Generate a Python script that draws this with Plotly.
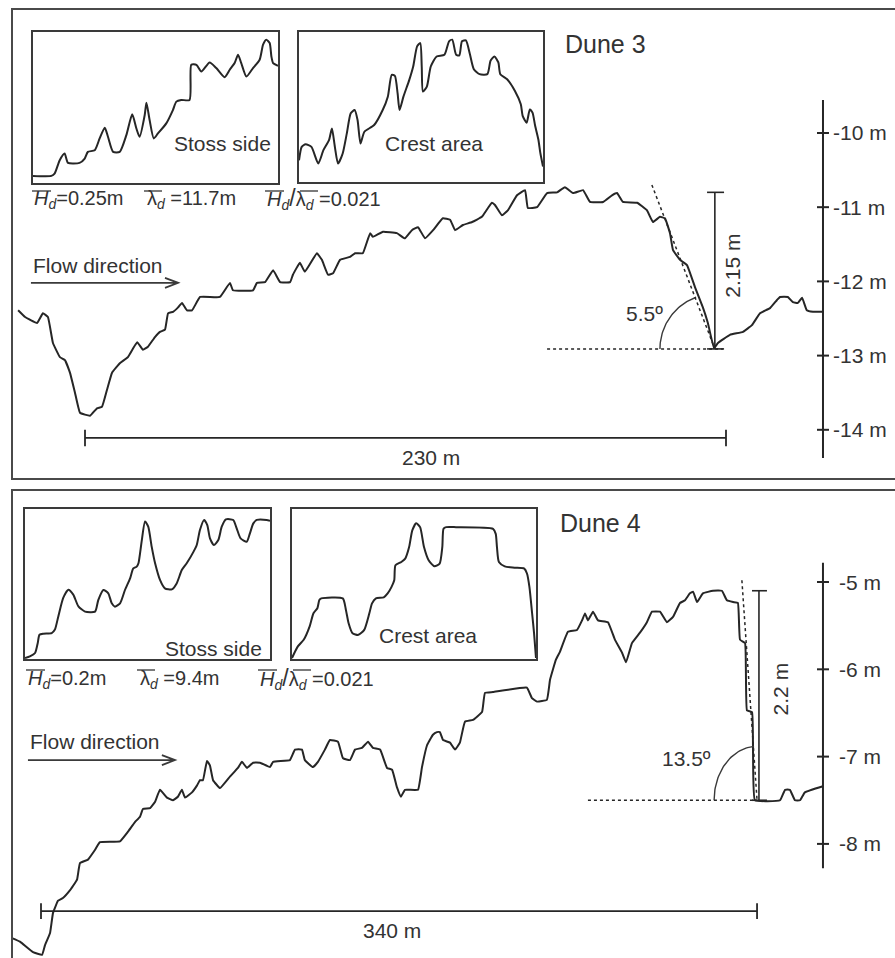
import numpy as np
import plotly.graph_objects as go

W, H = 895, 958
FONT = "Liberation Sans, Arial, sans-serif"
INK = "#262626"
TXT = "#333333"

# ---------------- data: Dune 3 profile (distance m, depth m) ----------------
d3_dist = [-24.0, -21.5, -17.2, -15.1, -13.3, -11.5, -9.0, -7.2, -5.4, -3.6,
           -1.8, 1.8, 4.3, 6.1, 7.9, 9.7, 12.6, 15.4, 18.7, 20.8,
           22.6, 25.1, 26.9, 28.7, 29.8, 31.6, 33.4, 34.8, 36.6, 38.4,
           41.3, 48.4, 52.0, 53.1, 60.3, 61.7, 64.6, 67.5, 70.0, 73.6,
           74.6, 77.1, 78.9, 83.2, 85.0, 87.2, 89.0, 91.5, 95.1, 96.9,
           99.7, 102.3, 103.3, 106.9, 111.9, 114.8, 117.3, 119.5, 122.0, 124.9,
           128.4, 131.0, 132.8, 135.6, 138.9, 142.4, 146.0, 147.1, 149.6, 151.8,
           155.0, 157.9, 158.9, 162.2, 165.8, 169.4, 172.2, 175.1, 178.7, 181.2,
           185.9, 189.1, 190.9, 193.0, 198.1, 201.6, 203.8, 206.3, 208.1, 209.9,
           211.0, 213.5, 216.0, 218.9, 221.7, 223.5, 225.7, 227.1, 231.4, 236.1,
           239.3, 242.2, 245.8, 248.3, 249.4, 252.2, 254.0, 255.8, 257.3, 259.0,
           261.2, 264.8]
d3_depth = [-12.39, -12.48, -12.56, -12.43, -12.48, -12.83, -13.02, -13.06, -13.23, -13.50,
            -13.77, -13.81, -13.71, -13.69, -13.46, -13.23, -13.10, -13.02, -12.82, -12.92,
            -12.88, -12.75, -12.68, -12.65, -12.43, -12.41, -12.35, -12.29, -12.39, -12.39,
            -12.21, -12.21, -12.02, -12.12, -12.12, -12.02, -12.01, -11.85, -12.01, -12.01,
            -11.91, -11.75, -11.87, -11.62, -11.71, -11.91, -11.89, -11.71, -11.67, -11.62,
            -11.62, -11.35, -11.40, -11.33, -11.35, -11.42, -11.31, -11.27, -11.42, -11.31,
            -11.15, -11.17, -11.31, -11.24, -11.20, -11.13, -10.94, -10.97, -11.11, -11.04,
            -10.84, -10.77, -11.01, -11.00, -10.81, -10.80, -10.73, -10.81, -10.77, -10.93,
            -10.93, -10.84, -10.81, -10.93, -10.94, -11.04, -11.20, -11.13, -11.15, -11.35,
            -11.58, -11.71, -11.78, -12.08, -12.35, -12.56, -12.90, -12.83, -12.72, -12.68,
            -12.59, -12.43, -12.36, -12.25, -12.21, -12.21, -12.28, -12.29, -12.22, -12.39,
            -12.41, -12.41]

# ---------------- data: Dune 4 profile ----------------
d4_dist = [-13.8, -10.0, -3.8, 0.5, 1.9, 4.3, 5.7, 8.1, 10.4, 13.8,
           17.1, 18.5, 22.3, 25.6, 28.0, 37.5, 41.3, 44.6, 47.0, 48.4,
           51.8, 54.1, 56.5, 59.8, 62.7, 65.0, 66.9, 68.4, 71.7, 74.1,
           75.5, 76.9, 78.8, 80.2, 81.7, 85.0, 89.7, 93.5, 95.4, 97.8,
           100.7, 104.0, 108.7, 110.2, 118.2, 120.6, 123.9, 125.3, 129.1, 131.5,
           134.8, 137.2, 141.0, 143.4, 146.7, 149.1, 152.4, 155.3, 157.6, 161.0,
           164.3, 166.7, 169.0, 170.9, 172.8, 179.0, 180.9, 183.3, 186.1, 188.0,
           189.4, 190.9, 194.2, 196.6, 198.9, 201.3, 205.1, 209.4, 210.8, 214.6,
           230.7, 233.1, 235.5, 240.2, 241.7, 244.5, 246.4, 250.2, 254.5, 256.9,
           258.3, 259.7, 262.1, 264.5, 269.2, 272.5, 275.9, 277.8, 280.6, 284.4,
           287.7, 290.1, 293.9, 297.2, 300.1, 303.4, 305.8, 308.1, 309.6, 311.5,
           314.3, 319.1, 323.3, 325.7, 328.6, 330.9, 331.9, 334.3, 335.2, 337.6,
           338.1, 339.0, 350.9, 353.3, 355.6, 358.0, 360.4, 362.7, 371.3]
d4_depth = [-9.08, -9.12, -9.24, -9.27, -9.16, -9.02, -8.79, -8.65, -8.62, -8.53,
            -8.41, -8.22, -8.18, -8.07, -7.98, -7.97, -7.86, -7.75, -7.69, -7.60,
            -7.59, -7.52, -7.38, -7.47, -7.50, -7.46, -7.38, -7.47, -7.41, -7.33,
            -7.27, -7.27, -7.05, -7.10, -7.27, -7.36, -7.23, -7.13, -7.06, -7.13,
            -7.07, -7.07, -7.12, -7.06, -7.04, -6.92, -6.92, -7.04, -7.12, -7.06,
            -6.92, -6.81, -6.83, -7.02, -7.04, -6.92, -6.90, -6.83, -6.90, -6.92,
            -7.13, -7.15, -7.35, -7.46, -7.38, -7.38, -7.12, -6.87, -6.75, -6.72,
            -6.72, -6.81, -6.84, -6.92, -6.84, -6.60, -6.58, -6.49, -6.27, -6.26,
            -6.21, -6.33, -6.37, -6.35, -6.12, -5.89, -5.80, -5.57, -5.55, -5.44,
            -5.36, -5.44, -5.34, -5.44, -5.46, -5.66, -5.81, -5.92, -5.70, -5.58,
            -5.46, -5.34, -5.34, -5.46, -5.40, -5.24, -5.21, -5.13, -5.11, -5.23,
            -5.13, -5.10, -5.10, -5.21, -5.23, -5.24, -5.66, -5.70, -6.47, -6.49,
            -6.96, -7.50, -7.50, -7.38, -7.38, -7.50, -7.50, -7.41, -7.34]

# ---------------- data: inset profiles (relative %, box = 0..100) ----------------
d3_stoss_x = [0, 7.5, 8.8, 10.9, 12.9, 14.3, 19.0, 21.1, 22.4, 25.2, 27.2, 29.3, 30.6, 32.7, 35.4,
              38.1, 40.5, 42.2, 43.5, 45.6, 46.3, 47.6, 49.3, 51.0, 54.4, 57.1, 58.5, 60.5, 63.9,
              64.6, 66.7, 68.7, 72.1, 74.8, 78.2, 80.3, 82.3, 83.7, 85.0, 87.1, 89.8, 92.5, 93.9,
              95.2, 96.6, 97.3, 98.0, 100]
d3_stoss_y = [4.7, 4.7, 6.2, 15.1, 19.5, 13.3, 13.3, 16.2, 20.6, 21.7, 29.5, 36.6, 30.6, 20.6, 20.6,
              31.7, 45.5, 36.1, 30.6, 45.0, 53.2, 41.7, 29.5, 32.8, 39.5, 48.3, 53.9, 55.0, 55.0,
              78.3, 78.3, 73.8, 79.8, 76.1, 70.1, 75.0, 79.4, 85.0, 79.4, 70.5, 76.1, 81.6, 91.6,
              94.9, 92.7, 83.8, 79.4, 77.6]
d3_crest_x = [0, 1.1, 2.7, 5.1, 7.9, 10.0, 12.3, 13.5, 14.7, 16.0, 17.9, 19.6, 21.2, 22.8, 24.0,
              25.2, 26.8, 30.8, 34.3, 36.4, 38.0, 39.3, 40.4, 41.2, 42.8, 45.2, 46.8, 48.4, 49.7,
              50.3, 50.8, 52.4, 54.0, 56.4, 59.6, 61.5, 62.8, 64.4, 65.7, 66.8, 68.4, 70.0, 71.6,
              74.0, 77.2, 78.5, 80.1, 81.7, 82.5, 85.3, 88.5, 90.9, 91.7, 93.3, 94.6, 95.7, 96.8,
              98.1, 98.9, 100]
d3_crest_y = [14.5, 23.4, 25.2, 23.4, 12.3, 21.2, 27.9, 35.7, 23.4, 12.3, 19.0, 32.4, 45.8, 48.0, 41.3,
              25.7, 33.5, 38.0, 48.0, 56.9, 71.4, 70.8, 59.2, 48.0, 56.9, 68.1, 77.0, 90.4, 92.6,
              77.0, 60.3, 63.6, 77.0, 83.7, 84.8, 93.8, 94.9, 84.8, 84.4, 93.8, 94.4, 85.5, 75.4,
              71.9, 71.9, 80.8, 83.7, 79.7, 71.9, 68.5, 60.7, 51.8, 43.9, 39.5, 48.4, 46.2, 37.3,
              28.3, 19.4, 10.3]
d4_stoss_x = [0, 2.0, 4.1, 5.2, 5.9, 7.5, 10.9, 12.2, 13.6, 15.6, 17.7, 19.7, 21.8, 24.5, 28.6,
              29.9, 32.0, 34.0, 35.4, 36.7, 38.8, 40.8, 42.9, 44.2, 45.6, 46.3, 47.6, 49.0, 50.3,
              51.7, 53.1, 55.1, 57.1, 59.9, 61.9, 64.0, 66.0, 68.8, 70.1, 71.4, 73.1, 74.4, 75.5,
              77.1, 78.9, 80.3, 82.0, 85.0, 86.4, 88.0, 90.5, 91.8, 93.2, 94.6, 98.6, 100]
d4_stoss_y = [0.7, 1.8, 4.0, 10.7, 16.2, 16.9, 17.3, 19.6, 28.4, 40.7, 46.2, 42.9, 35.1, 31.6, 31.6,
              39.3, 46.0, 43.8, 37.1, 34.9, 37.1, 46.0, 53.8, 60.4, 61.6, 63.8, 78.2, 91.6, 88.2,
              74.9, 63.8, 52.7, 47.1, 46.4, 50.4, 59.3, 63.8, 71.6, 76.0, 86.0, 92.7, 89.3, 80.4,
              76.0, 79.3, 88.2, 93.1, 92.7, 87.1, 80.4, 78.2, 83.8, 90.4, 92.7, 92.7, 92.2]
d4_crest_x = [0, 2.4, 4.8, 7.2, 8.8, 10.4, 11.2, 12.0, 20.8, 22.1, 23.2, 24.8, 27.2, 29.6, 31.7,
              32.8, 34.4, 37.6, 39.2, 40.8, 41.9, 42.4, 44.8, 46.4, 48.0, 49.3, 50.9, 52.5, 54.1,
              56.0, 58.4, 60.5, 61.6, 62.1, 63.2, 67.2, 82.4, 83.5, 84.0, 84.8, 87.2, 91.2, 95.2,
              96.3, 97.3, 98.4, 99.2, 100]
d4_crest_y = [0.7, 8.4, 12.8, 21.6, 30.5, 33.8, 39.3, 40.4, 40.4, 32.7, 23.8, 17.2, 16.1, 19.4, 30.5,
              37.1, 40.4, 41.1, 43.7, 48.1, 52.5, 62.5, 64.7, 66.9, 74.6, 85.7, 90.5, 87.9, 74.6,
              65.8, 61.8, 63.6, 74.6, 86.8, 87.9, 87.9, 86.8, 83.4, 74.6, 64.7, 61.8, 60.9, 60.3,
              57.0, 48.1, 30.5, 17.2, 0.7]

# ---------------- data: scales, annotations ----------------
d3_ticks = [-10, -11, -12, -13, -14]
d3_tick_labels = ["-10 m", "-11 m", "-12 m", "-13 m", "-14 m"]
d4_ticks = [-5, -6, -7, -8]
d4_tick_labels = ["-5 m", "-6 m", "-7 m", "-8 m"]
d3_length, d4_length = 230, 340
d3_lee_height, d4_lee_height = "2.15 m", "2.2 m"
d3_lee_angle, d4_lee_angle = "5.5º", "13.5º"
d3_stats = ["0.25m", "11.7m", "0.021"]
d4_stats = ["0.2m", "9.4m", "0.021"]

# ---------------- figure ----------------
def P(px, py):
    return px / W, 1 - py / H

fig = go.Figure()

hidden = dict(visible=False, showgrid=False, zeroline=False, fixedrange=True)
box = dict(showline=True, mirror=True, linecolor="#3a3a3a", linewidth=2,
           showgrid=False, zeroline=False, showticklabels=False, ticks="",
           range=[0, 100], fixedrange=True)

fig.update_layout(
    width=W, height=H, margin=dict(l=0, r=0, t=0, b=0),
    paper_bgcolor="white", plot_bgcolor="rgba(0,0,0,0)", showlegend=False,
    font=dict(family=FONT, size=21, color=TXT),
    xaxis=dict(domain=[0, 1], range=[-30.50, 290.64], anchor="y", **hidden),
    yaxis=dict(domain=[0.5, 1], range=[-14.663, -8.208], anchor="x", **hidden),
    xaxis2=dict(domain=[0, 1], range=[-19.47, 405.50], anchor="y2", **hidden),
    yaxis2=dict(domain=[0, 0.5], range=[-9.307, -3.820], anchor="x2", **hidden),
    xaxis3=dict(domain=[33 / W, 278 / W], anchor="y3", **box),
    yaxis3=dict(domain=[1 - 183 / H, 1 - 32 / H], anchor="x3", **box),
    xaxis4=dict(domain=[299 / W, 543 / W], anchor="y4", **box),
    yaxis4=dict(domain=[1 - 182 / H, 1 - 32 / H], anchor="x4", **box),
    xaxis5=dict(domain=[25 / W, 270 / W], anchor="y5", **box),
    yaxis5=dict(domain=[1 - 659 / H, 1 - 509 / H], anchor="x5", **box),
    xaxis6=dict(domain=[292 / W, 536 / W], anchor="y6", **box),
    yaxis6=dict(domain=[1 - 659 / H, 1 - 509 / H], anchor="x6", **box),
)

prof_line = dict(color=INK, width=2, shape="spline", smoothing=0.3)
fig.add_trace(go.Scatter(x=d3_dist, y=d3_depth, mode="lines", line=prof_line, xaxis="x", yaxis="y", hoverinfo="skip"))
fig.add_trace(go.Scatter(x=d4_dist, y=d4_depth, mode="lines", line=prof_line, xaxis="x2", yaxis="y2", hoverinfo="skip"))
ins_line = dict(color=INK, width=2, shape="spline", smoothing=0.6)
for xs, ys, ax in [(d3_stoss_x, d3_stoss_y, "3"), (d3_crest_x, d3_crest_y, "4"),
                   (d4_stoss_x, d4_stoss_y, "5"), (d4_crest_x, d4_crest_y, "6")]:
    fig.add_trace(go.Scatter(x=xs, y=ys, mode="lines", line=ins_line,
                             xaxis="x" + ax, yaxis="y" + ax, hoverinfo="skip", cliponaxis=True))

shapes = []
def seg(x0, y0, x1, y1, xr, yr, dash=None, width=1.8, color=INK):
    ln = dict(color=color, width=width)
    if dash:
        ln["dash"] = dash
    shapes.append(dict(type="line", x0=x0, y0=y0, x1=x1, y1=y1, xref=xr, yref=yr, line=ln, layer="above"))

# panel borders
shapes.append(dict(type="rect", xref="paper", yref="paper", x0=12 / W, x1=1.02, y0=1 - 479 / H, y1=1 - 9 / H,
                   line=dict(color="#4a4a4a", width=2)))
shapes.append(dict(type="rect", xref="paper", yref="paper", x0=12 / W, x1=1.02, y0=-0.02, y1=1 - 490 / H,
                   line=dict(color="#4a4a4a", width=2)))

annos = []
def txt(text, x, y, xr, yr, xa="left", ya="middle", size=21, angle=0):
    annos.append(dict(text=text, x=x, y=y, xref=xr, yref=yr, xanchor=xa, yanchor=ya,
                      showarrow=False, textangle=angle, font=dict(family=FONT, size=size, color=TXT)))

def arrow(x0, x1, y, back, half, xr, yr):
    shapes.append(dict(type="path", xref=xr, yref=yr, layer="above",
                       path=f"M {x0},{y} L {x1},{y} M {x1 - back},{y + half} L {x1},{y} L {x1 - back},{y - half}",
                       line=dict(color="#3a3a3a", width=1.8)))

def arc(cx, cy, rx, ry, a0, a1, xr, yr):
    t = np.radians(np.linspace(a0, a1, 40))
    fig.add_trace(go.Scatter(x=cx + rx * np.cos(t), y=cy + ry * np.sin(t), mode="lines",
                             line=dict(color="#3a3a3a", width=1.4), xaxis=xr, yaxis=yr, hoverinfo="skip"))

# ---- Dune 3 (top) decorations ----
sx3 = 264.8
seg(sx3, -9.555, sx3, -14.38, "x", "y", width=2)
for t, lab in zip(d3_ticks, d3_tick_labels):
    seg(sx3 - 2.15, t, sx3 + 2.15, t, "x", "y", width=2)
    txt(lab, sx3 + 3.0, t, "x", "y")
seg(0, -14.11, d3_length, -14.11, "x", "y")
seg(0, -14.00, 0, -14.22, "x", "y")
seg(d3_length, -14.00, d3_length, -14.22, "x", "y")
txt(f"{d3_length} m", d3_length * 0.54, -14.37, "x", "y", xa="center")
seg(165.8, -12.91, 228.9, -12.91, "x", "y", dash="dot", width=1.5)
seg(203.4, -10.70, 226.0, -12.91, "x", "y", dash="dot", width=1.5)
seg(226.0, -12.91, 226.0, -10.80, "x", "y", width=1.6)
seg(223.2, -10.80, 229.3, -10.80, "x", "y", width=1.6)
seg(223.2, -12.91, 229.3, -12.91, "x", "y", width=1.6)
txt(d3_lee_height, 232.5, -11.79, "x", "y", xa="center", angle=-90)
arc(226.0, -12.91, 19.7, 0.741, 110, 180, "x", "y")
txt(d3_lee_angle, 200.9, -12.43, "x", "y", xa="center")
txt("Flow direction", -19.4, -11.78, "x", "y")
arrow(-19.4, 33.4, -12.02, 4.7, 0.067, "x", "y")

# ---- Dune 4 (bottom) decorations ----
sx4 = 371.3
seg(sx4, -4.78, sx4, -8.28, "x2", "y2", width=2)
for t, lab in zip(d4_ticks, d4_tick_labels):
    seg(sx4 - 2.85, t, sx4 + 2.85, t, "x2", "y2", width=2)
    txt(lab, sx4 + 6.5, t, "x2", "y2")
seg(0, -8.77, d4_length, -8.77, "x2", "y2")
seg(0, -8.68, 0, -8.86, "x2", "y2")
seg(d4_length, -8.68, d4_length, -8.86, "x2", "y2")
txt(f"{d4_length} m", d4_length * 0.49, -8.99, "x2", "y2", xa="center")
seg(259.7, -7.50, 340.0, -7.50, "x2", "y2", dash="dot", width=1.5)
seg(332.8, -4.98, 340.0, -7.50, "x2", "y2", dash="dot", width=1.5)
seg(340.9, -7.50, 340.9, -5.10, "x2", "y2", width=1.6)
seg(337.6, -5.10, 344.7, -5.10, "x2", "y2", width=1.6)
seg(337.6, -7.50, 344.7, -7.50, "x2", "y2", width=1.6)
txt(d4_lee_height, 350.9, -6.23, "x2", "y2", xa="center", angle=-90)
arc(340.0, -7.50, 20.4, 0.619, 94, 180, "x2", "y2")
txt(d4_lee_angle, 306.7, -7.02, "x2", "y2", xa="center")
txt("Flow direction", -6.2, -6.83, "x2", "y2")
arrow(-6.2, 63.6, -7.04, 6.2, 0.057, "x2", "y2")

# ---- paper-level labels: bar statistics with overlines ----
HB = '<i>H</i><sub><i>d</i></sub>'
LB = 'λ<sub><i>d</i></sub>'
SL = "<span style='font-size:23px'>/</span>"
stat_rows = [
    (199, 191, [(32, HB + "=" + d3_stats[0], [(32, 51)]),
                (145, LB + " =" + d3_stats[1], [(144, 162)]),
                (265, HB + SL + LB + " =" + d3_stats[2], [(265, 284), (300, 318)])]),
    (679, 670, [(26, HB + "=" + d4_stats[0], [(26, 45)]),
                (138, LB + " =" + d4_stats[1], [(137, 155)]),
                (258, HB + SL + LB + " =" + d4_stats[2], [(258, 277), (293, 311)])]),
]
for (py, oy, items) in stat_rows:
    for (px, t, bars) in items:
        x, y = P(px, py)
        txt(t, x, y, "paper", "paper", size=20)
        for (a, b) in bars:
            shapes.append(dict(type="line", xref="paper", yref="paper", x0=a / W, x1=b / W,
                               y0=1 - oy / H, y1=1 - oy / H, line=dict(color=TXT, width=1.3)))

for (px, py, t, xa) in [(273, 143, "Stoss side", "right"), (383, 143, "Crest area", "left"),
                        (264, 648, "Stoss side", "right"), (377, 635, "Crest area", "left")]:
    x, y = P(px, py)
    txt(t, x, y, "paper", "paper", xa=xa)

for (px, py, t) in [(563, 44, "Dune 3"), (558, 523, "Dune 4")]:
    x, y = P(px, py)
    txt(t, x, y, "paper", "paper", size=25)

fig.update_layout(shapes=shapes, annotations=annos)
fig.write_html("out.html", config={"displayModeBar": False, "staticPlot": True},
               post_script="document.body.style.margin='0px';document.body.style.overflow='hidden';")
